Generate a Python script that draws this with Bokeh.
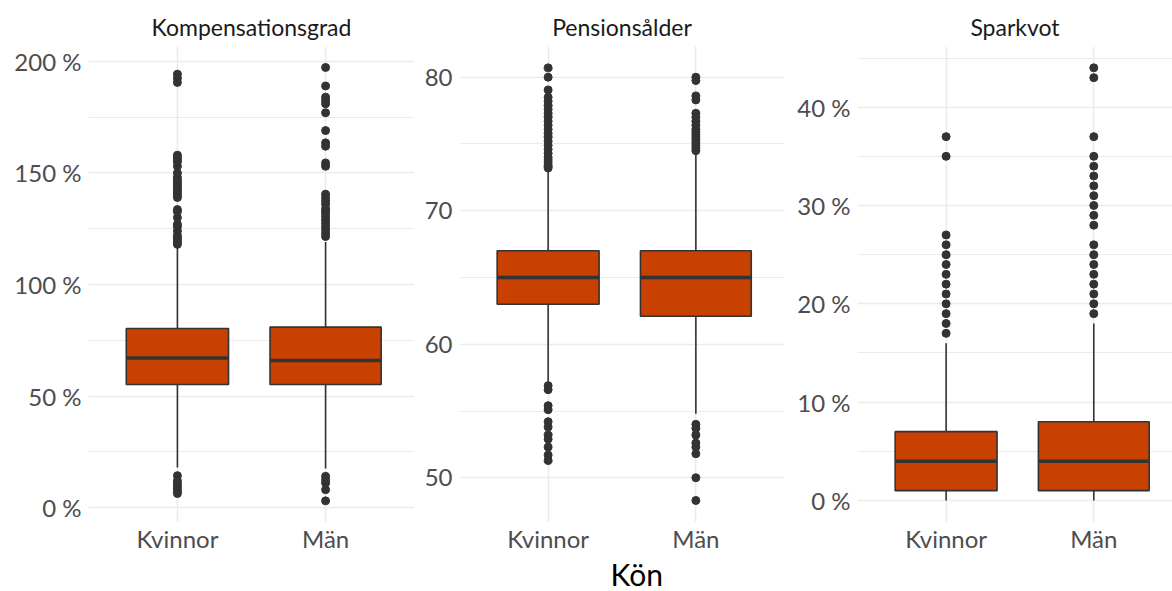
from bokeh.plotting import figure
from bokeh.layouts import row
from bokeh.models import FixedTicker, PrintfTickFormatter, Range1d, Title
from bokeh.embed import file_html
from bokeh.resources import INLINE

# ---------------- data ----------------
groups = ["Kvinnor", "Män"]
facet_titles = ["Kompensationsgrad", "Pensionsålder", "Sparkvot"]
x_label = "Kön"

# Kompensationsgrad (%)
komp_q1 = [55.2, 55.2]
komp_med = [67.0, 65.9]
komp_q3 = [80.3, 80.9]
komp_lo = [18.0, 17.5]
komp_hi = [117.0, 119.0]
komp_out_kvinnor = [118, 119, 120, 121, 122, 124, 126, 127, 130, 132.7, 133.6,
                    139, 140, 141, 142, 143, 144, 145, 146, 147, 148, 150, 153,
                    155, 156, 157, 158, 190.6, 192.5, 194.3,
                    14.3, 12.0, 10.7, 9.5, 8.5, 7.3, 6.3]
komp_out_man = [121.5, 123, 124.5, 126, 127.5, 129, 130.5, 132, 133, 134, 136,
                137.5, 139, 140.5, 153, 154.5, 162, 163.5, 169, 177, 181, 182.5,
                184, 189, 197.3,
                14.0, 12.5, 11.0, 8.0, 3.0]

# Pensionsålder (år)
pens_q1 = [63.0, 62.1]
pens_med = [65.0, 65.0]
pens_q3 = [67.0, 67.0]
pens_lo = [57.0, 54.8]
pens_hi = [73.0, 74.3]
pens_out_kvinnor = [73.2, 73.4, 73.6, 73.8, 74.0, 74.3, 74.6, 74.9, 75.2, 75.5,
                    75.8, 76.1, 76.4, 76.7, 77.0, 77.3, 77.6, 77.9, 78.2, 78.5,
                    79.05, 80.0, 80.7,
                    56.9, 56.6, 55.4, 55.1, 54.2, 53.8, 53.2, 52.9, 52.3, 51.7, 51.3]
pens_out_man = [74.5, 74.7, 74.9, 75.1, 75.3, 75.5, 75.7, 75.9, 76.1, 76.4,
                76.7, 77.0, 77.3, 78.3, 78.6, 79.75, 80.0,
                54.0, 53.7, 53.2, 52.6, 52.3, 51.8, 50.0, 48.3]

# Sparkvot (%)
spar_q1 = [1.0, 1.0]
spar_med = [4.0, 4.0]
spar_q3 = [7.0, 8.0]
spar_lo = [0.0, 0.0]
spar_hi = [16.0, 18.0]
spar_out_kvinnor = [17, 18, 19, 20, 21, 22, 23, 24, 25, 26, 27, 35, 37]
spar_out_man = [19, 20, 21, 22, 23, 24, 25, 26, 28, 29, 30, 31, 32, 33, 34, 35,
                37, 43, 44]

komp_ticks = [0, 50, 100, 150, 200]
pens_ticks = [50, 60, 70, 80]
spar_ticks = [0, 10, 20, 30, 40]

# ---------------- style ----------------
FONT = "Lato"
FILL = "#C94100"
DARK = "#333333"
GRID = "#EBEBEB"
BOX_W = [0.69, 0.75]
POS = [1, 2]
H = 591


def minor_of(ticks):
    step = ticks[1] - ticks[0]
    return [t - step / 2 for t in ticks] + [ticks[-1] + step / 2]


def panel(title, q1, med, q3, lo, hi, outs, ticks, fmt, yr, xr, width,
          bl, br):
    p = figure(width=width, height=H, output_backend="svg",
               toolbar_location=None, x_range=Range1d(*xr),
               y_range=Range1d(*yr), min_border_left=bl, min_border_right=br,
               min_border_top=46, min_border_bottom=69, title=title)
    p.outline_line_color = None
    p.background_fill_color = "white"
    p.border_fill_color = "white"
    p.title.align = "center"
    p.title.text_font = FONT
    p.title.text_font_size = "23px"
    p.title.text_font_style = "normal"
    p.title.text_color = "#1A1A1A"
    p.title.standoff = 11

    p.yaxis.ticker = FixedTicker(ticks=ticks, minor_ticks=minor_of(ticks))
    p.xaxis.ticker = FixedTicker(ticks=POS)
    p.xaxis.major_label_overrides = {POS[i]: groups[i] for i in range(2)}
    if fmt:
        p.yaxis.formatter = PrintfTickFormatter(format=fmt)
    for ax in (p.xaxis, p.yaxis):
        ax.axis_line_color = None
        ax.major_tick_line_color = None
        ax.minor_tick_line_color = None
        ax.major_tick_out = 0
        ax.minor_tick_out = 0
        ax.major_label_text_font = FONT
        ax.major_label_text_font_size = "24px"
        ax.major_label_text_color = "#4D4D4D"
    p.yaxis.major_label_standoff = 7
    p.xaxis.major_label_standoff = 1

    p.ygrid.grid_line_color = GRID
    p.ygrid.grid_line_width = 1.6
    p.ygrid.minor_grid_line_color = GRID
    p.ygrid.minor_grid_line_width = 1.0
    p.xgrid.grid_line_color = GRID
    p.xgrid.grid_line_width = 1.6

    left = [POS[i] - BOX_W[i] / 2 for i in range(2)]
    right = [POS[i] + BOX_W[i] / 2 for i in range(2)]
    p.segment(x0=POS, y0=q3, x1=POS, y1=hi, line_color=DARK, line_width=1.6)
    p.segment(x0=POS, y0=q1, x1=POS, y1=lo, line_color=DARK, line_width=1.6)
    p.quad(left=left, right=right, bottom=q1, top=q3, fill_color=FILL,
           line_color=DARK, line_width=1.6)
    p.segment(x0=left, y0=med, x1=right, y1=med, line_color=DARK,
              line_width=3.5)
    ox, oy = [], []
    for i, vals in enumerate(outs):
        ox += [POS[i]] * len(vals)
        oy += list(vals)
    p.scatter(ox, oy, size=8, fill_color=DARK, line_color=DARK)
    return p


p1 = panel(facet_titles[0], komp_q1, komp_med, komp_q3, komp_lo, komp_hi,
           [komp_out_kvinnor, komp_out_man], komp_ticks, "%d %%",
           (-6.7, 206.7), (0.4, 2.6), 420, 88, 6)
p2 = panel(facet_titles[1], pens_q1, pens_med, pens_q3, pens_lo, pens_hi,
           [pens_out_kvinnor, pens_out_man], pens_ticks, None,
           (46.65, 82.3), (0.4, 2.6), 370, 39, 6)
p3 = panel(facet_titles[2], spar_q1, spar_med, spar_q3, spar_lo, spar_hi,
           [spar_out_kvinnor, spar_out_man], spar_ticks, "%d %%",
           (-2.24, 46.17), (0.4, 2.533), 382, 67, 0)

kon = Title(text=x_label, align="left", offset=151, text_font=FONT,
            text_font_size="30px", text_font_style="normal",
            text_color="#000000", standoff=-4)
p2.add_layout(kon, "below")

layout = row(p1, p2, p3)
open("out.html", "w").write(file_html(layout, INLINE))
